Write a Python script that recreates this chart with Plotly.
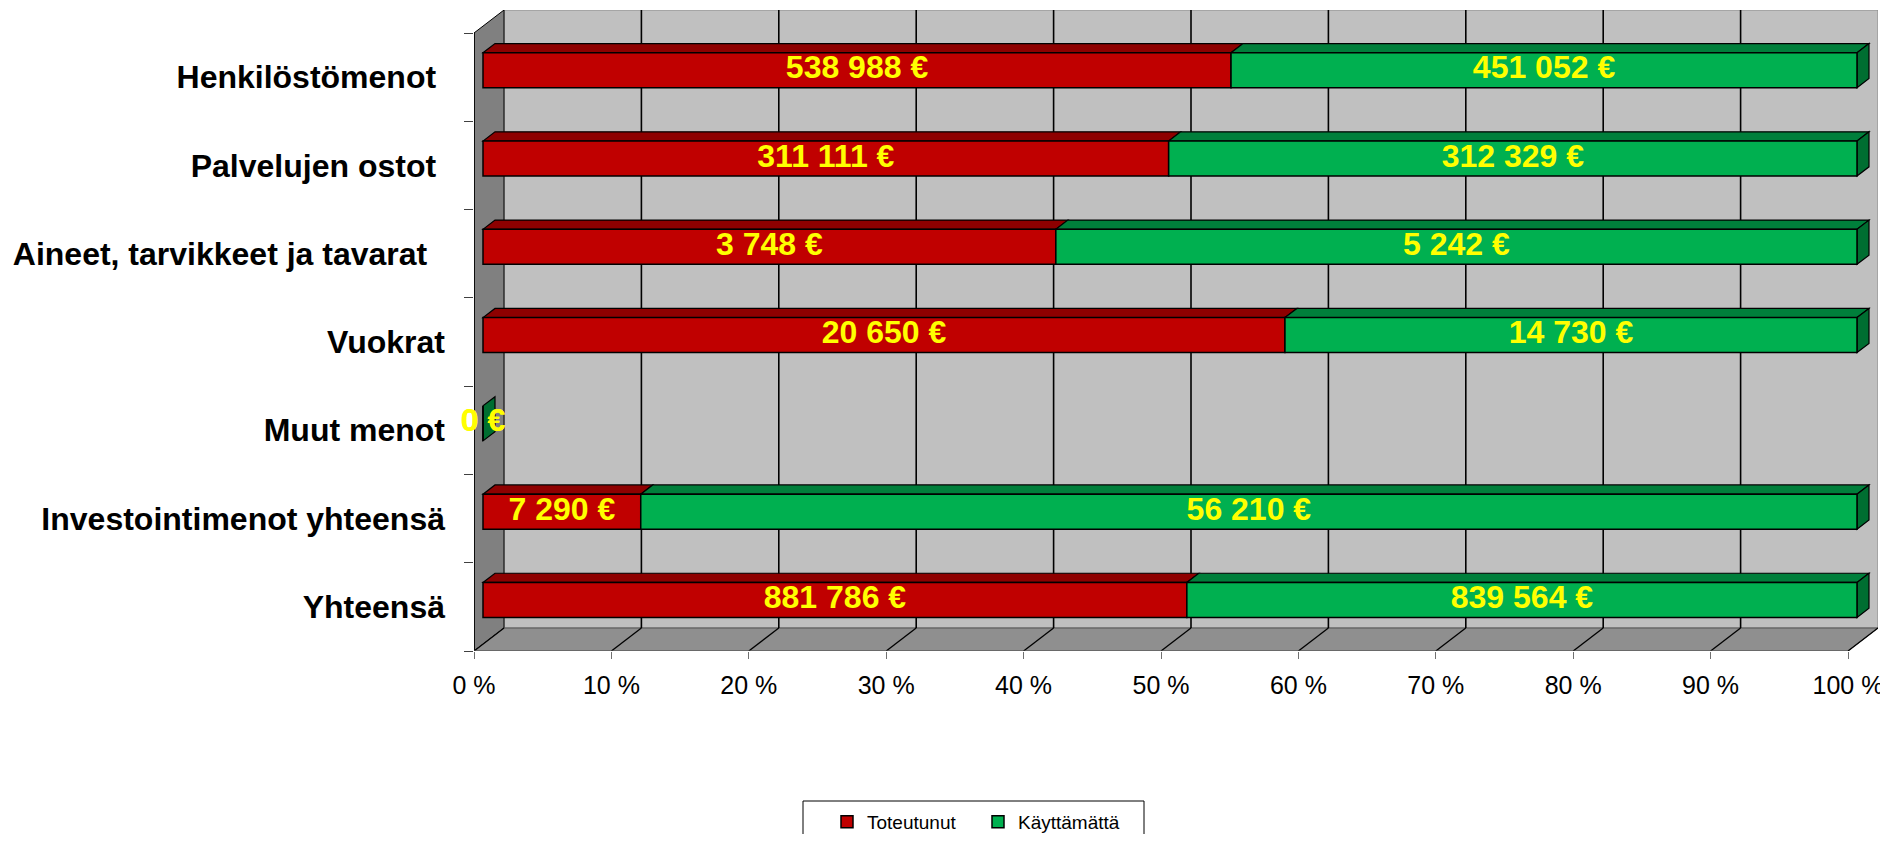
import plotly.graph_objects as go

# ---------------- data ----------------
categories = [
    "Henkilöstömenot\u00a0",
    "Palvelujen ostot\u00a0",
    "Aineet, tarvikkeet ja tavarat\u00a0\u00a0",
    "Vuokrat",
    "Muut menot",
    "Investointimenot yhteensä",
    "Yhteensä",
]
toteutunut = [538988, 311111, 3748, 20650, 0, 7290, 881786]
kayttamatta = [451052, 312329, 5242, 14730, 0, 56210, 839564]
series_names = ["Toteutunut", "Käyttämättä"]
x_ticks = list(range(0, 101, 10))
x_tick_labels = [f"{v} %" for v in x_ticks]

# ---------------- style / geometry ----------------
PAGE_OFF = 8                      # browser body margin
W, H = 1888 - PAGE_OFF, 842 - 2 * PAGE_OFF
ML, MT = 474 - PAGE_OFF, 10 - PAGE_OFF
MR = W - (1878 - PAGE_OFF)
MB = H - (651 - PAGE_OFF)
PLOT_W = W - ML - MR
PLOT_H = H - MT - MB
DEPTH_PX_X, DEPTH_PX_Y = 30, 23
FRONT_W_PX = PLOT_W - DEPTH_PX_X
n = len(categories)
PX_X = FRONT_W_PX / 100.0
PX_Y = (PLOT_H - DEPTH_PX_Y) / n
DX = DEPTH_PX_X / PX_X
DY = DEPTH_PX_Y / PX_Y
BAR_FRONT, BAR_BACK = 0.3, 0.7
BW = 35 / PX_Y

RED, RED_TOP = "#C00000", "#8E0000"
GREEN, GREEN_TOP, GREEN_SIDE = "#00B050", "#007F3B", "#006E31"
WALL, SIDE_WALL, FLOOR = "#C0C0C0", "#808080", "#8F8F8F"
FONT = "Liberation Sans, Arial, sans-serif"

def fmt(v):
    return f"{v:,}".replace(",", " ") + " €"

def px_to_paper_x(px_abs):
    return (px_abs - PAGE_OFF - ML) / PLOT_W

def px_to_paper_y(py_abs):
    return -((py_abs - PAGE_OFF) - (H - MB)) / PLOT_H

shapes = []

def poly(pts, fill, line="black", lw=1.0, layer="below"):
    d = "M " + " L ".join(f"{x},{y}" for x, y in pts) + " Z"
    shapes.append(dict(type="path", path=d, xref="x", yref="y", fillcolor=fill,
                       line=dict(color=line, width=lw), layer=layer))

def seg(x0, y0, x1, y1, color="black", lw=1.5):
    shapes.append(dict(type="line", x0=x0, y0=y0, x1=x1, y1=y1, xref="x", yref="y",
                       line=dict(color=color, width=lw), layer="below"))

y_lo, y_hi = -0.5, n - 0.5
# back wall
poly([(DX, y_lo + DY), (100 + DX, y_lo + DY), (100 + DX, y_hi + DY), (DX, y_hi + DY)],
     WALL, line="#8a8a8a", lw=1)
# left wall
poly([(0, y_lo), (0, y_hi), (DX, y_hi + DY), (DX, y_lo + DY)], SIDE_WALL, line="black", lw=1)
# floor
poly([(0, y_lo), (100, y_lo), (100 + DX, y_lo + DY), (DX, y_lo + DY)], FLOOR, line="#555555", lw=1)
# grid on wall and floor
for v in x_ticks:
    if 0 < v < 100:
        seg(v + DX, y_lo + DY, v + DX, y_hi + DY, "black", 1.6)
    seg(v, y_lo, v + DX, y_lo + DY, "black", 1.3)
# front axis lines
seg(0, y_lo, 0, y_hi, "black", 1.6)
seg(0, y_lo, 100, y_lo, "#606060", 1.2)

# legend frame
shapes.append(dict(type="rect", xref="paper", yref="paper",
                   x0=px_to_paper_x(803), x1=px_to_paper_x(1144),
                   y0=px_to_paper_y(801), y1=px_to_paper_y(860),
                   line=dict(color="black", width=1), fillcolor="rgba(0,0,0,0)", layer="above"))

# ---------------- bars ----------------
idx = [n - 1 - i for i in range(n)]
pct_red, pct_green = [], []
for t, k in zip(toteutunut, kayttamatta):
    tot = t + k
    pct_red.append(100.0 * t / tot if tot else 0.0)
    pct_green.append(100.0 * k / tot if tot else 0.0)

xoff = BAR_FRONT * DX
yoff = BAR_FRONT * DY
yc = [j + yoff for j in idx]
base_red = [xoff] * n
base_green = [xoff + p for p in pct_red]
ddx = (BAR_BACK - BAR_FRONT) * DX
ddy = (BAR_BACK - BAR_FRONT) * DY

fig = go.Figure()
fig.add_trace(go.Bar(orientation="h", y=yc, x=pct_red, base=base_red, width=BW,
                     name=series_names[0], marker=dict(color=RED, line=dict(color="black", width=1.5)),
                     hoverinfo="skip"))
fig.add_trace(go.Bar(orientation="h", y=yc, x=pct_green, base=base_green, width=BW,
                     name=series_names[1], marker=dict(color=GREEN, line=dict(color="black", width=1.5)),
                     hoverinfo="skip"))

# 3D faces (derived from the same data)
for i in range(n):
    top = yc[i] + BW / 2
    bot = yc[i] - BW / 2
    for b, w, col in ((base_red[i], pct_red[i], RED_TOP), (base_green[i], pct_green[i], GREEN_TOP)):
        if w > 0:
            poly([(b, top), (b + w, top), (b + w + ddx, top + ddy), (b + ddx, top + ddy)],
                 col, line="black", lw=1.2)
    xe = base_green[i] + pct_green[i]
    poly([(xe, bot), (xe, top), (xe + ddx, top + ddy), (xe + ddx, bot + ddy)],
         GREEN_SIDE, line="black", lw=1.2)

# data labels
lx, ly, lt = [], [], []
for i in range(n):
    lx += [base_red[i] + pct_red[i] / 2, base_green[i] + pct_green[i] / 2]
    ly += [yc[i], yc[i]]
    lt += [fmt(toteutunut[i]), fmt(kayttamatta[i])]
fig.add_trace(go.Scatter(x=lx, y=ly, text=lt, mode="text", textposition="middle center",
                         textfont=dict(family=FONT, size=32, color="#FFFF00", weight="bold"),
                         showlegend=False, hoverinfo="skip", cliponaxis=False))

fig.update_layout(
    width=W, height=H,
    margin=dict(l=ML, r=MR, t=MT, b=MB, pad=0, autoexpand=False),
    paper_bgcolor="white", plot_bgcolor="white",
    barmode="overlay",
    shapes=shapes,
    showlegend=True,
    legend=dict(orientation="h", x=px_to_paper_x(827), xanchor="left",
                y=px_to_paper_y(803), yanchor="top",
                borderwidth=0, bgcolor="rgba(0,0,0,0)",
                font=dict(family=FONT, size=19, color="black"),
                entrywidth=106, entrywidthmode="pixels"),
    xaxis=dict(range=[0, 100 + DX], tickvals=x_ticks, ticktext=x_tick_labels,
               showgrid=False, zeroline=False, showline=False,
               ticks="outside", ticklen=7, tickcolor="#707070", tickwidth=1,
               tickfont=dict(family=FONT, size=25, color="black"),
               ticklabelstandoff=5, ticklabeloverflow="allow",
               automargin=False, fixedrange=True),
    yaxis=dict(range=[y_lo, y_hi + DY], tickvals=idx, ticktext=categories,
               showgrid=False, zeroline=False, showline=False, ticks="",
               tickfont=dict(family=FONT, size=32, color="black", weight="bold"),
               ticklabelstandoff=28, automargin=False, fixedrange=True,
               minor=dict(tickvals=[y_lo + j for j in range(n + 1)], ticks="outside",
                          ticklen=9, tickcolor="#404040", tickwidth=1, showgrid=False)),
    font=dict(family=FONT),
)

fig.write_html("out.html")
